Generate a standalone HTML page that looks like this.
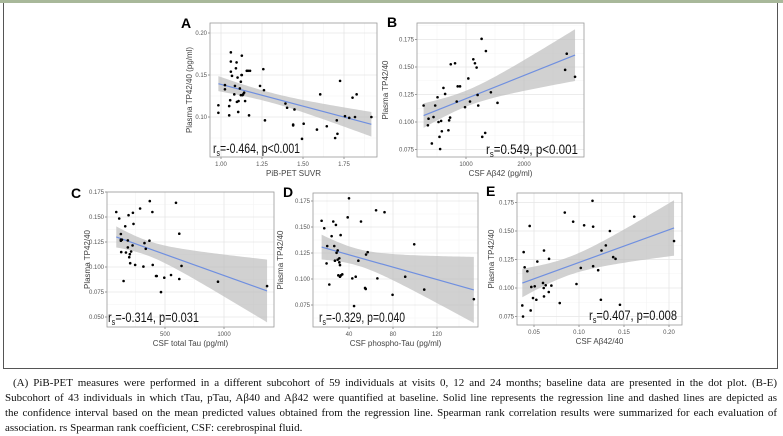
<!DOCTYPE html>
<html><head><meta charset="utf-8"><style>
body{margin:0;width:783px;height:434px;background:#fff;overflow:hidden;position:relative;font-family:"Liberation Sans",sans-serif}
#topbar{position:absolute;left:0;top:0;width:783px;height:3px;background:#a8b89a}
#frame{position:absolute;left:3px;top:3px;width:773px;height:365px;border:1px solid #555;border-top:none}
#cap{position:absolute;left:5px;top:376px;width:772px;font-family:"Liberation Serif",serif;font-size:11px;line-height:15px;color:#111}
#cap div{text-align:justify;text-align-last:justify;white-space:nowrap;overflow:hidden}
#cap div.last{text-align-last:left}
</style></head><body>
<div id="topbar"></div>
<div id="frame"></div>
<svg id="fig" width="783" height="434" style="position:absolute;left:0;top:0"></svg>
<div id="cap">
<div style="padding-left:8px">(A) PiB-PET measures were performed in a different subcohort of 59 individuals at visits 0, 12 and 24 months; baseline data are presented in the dot plot. (B-E)</div>
<div>Subcohort of 43 individuals in which tTau, pTau, Aβ40 and Aβ42 were quantified at baseline. Solid line represents the regression line and dashed lines are depicted as</div>
<div>the confidence interval based on the mean predicted values obtained from the regression line. Spearman rank correlation results were summarized for each evaluation of</div>
<div class="last">association. rs Spearman rank coefficient, CSF: cerebrospinal fluid.</div>
</div>
<script>
// Panel A data
const aX=[0.984,0.984,1.024,1.024,1.050,1.050,1.056,1.060,1.060,1.060,1.067,1.081,1.085,1.091,1.095,1.097,1.101,1.105,1.107,1.115,1.121,1.121,1.125,1.127,1.127,1.131,1.135,1.141,1.147,1.157,1.165,1.171,1.177,1.238,1.258,1.262,1.268,1.393,1.403,1.448,1.44,1.44,1.494,1.504,1.585,1.605,1.645,1.696,1.706,1.71,1.726,1.756,1.782,1.802,1.817,1.827,1.917];
const aY=[0.114,0.105,0.138,0.133,0.113,0.102,0.120,0.177,0.166,0.154,0.149,0.127,0.137,0.158,0.165,0.118,0.147,0.106,0.119,0.134,0.142,0.126,0.150,0.173,0.150,0.126,0.127,0.129,0.119,0.155,0.155,0.102,0.155,0.137,0.157,0.132,0.096,0.116,0.111,0.109,0.091,0.090,0.074,0.092,0.085,0.127,0.089,0.075,0.096,0.080,0.143,0.101,0.099,0.123,0.100,0.127,0.100];
const aXTicks=[1.00,1.25,1.50,1.75];
const aYTicks=[0.10,0.15,0.20];
// Panel B data
const bX=[269,354,343,411,440,469,509,526,543,554,571,583,611,640,697,709,726,737,811,840,857,897,983,1040,1069,1126,1154,1183,1200,1211,1269,1280,1343,1331,1429,1543,2709,2737,2880];
const bY=[0.115,0.103,0.097,0.0805,0.1045,0.115,0.1225,0.100,0.0865,0.0754,0.101,0.0916,0.131,0.1255,0.0925,0.1015,0.104,0.1525,0.1534,0.1186,0.1324,0.1324,0.1135,0.1396,0.1186,0.157,0.1534,0.1495,0.1246,0.115,0.1756,0.0865,0.1645,0.0901,0.127,0.1174,0.1474,0.1621,0.1411];
const bXTicks=[1000,2000];
const bYTicks=[0.075,0.100,0.125,0.150,0.175];
// Panel C data
const cX=[87,112,126,126,129,126,135,149,163,169,185,185,191,197,202,205,213,225,228,233,247,289,317,326,337,368,371,393,396,424,430,466,494,551,593,621,621,640,949,1365];
const cY=[0.155,0.1485,0.133,0.1273,0.1149,0.1263,0.1273,0.086,0.1407,0.1145,0.1266,0.1196,0.1518,0.1098,0.1128,0.1038,0.1155,0.1216,0.1542,0.1431,0.1021,0.1585,0.1004,0.1239,0.1182,0.1263,0.1659,0.155,0.1021,0.091,0.091,0.0749,0.0893,0.092,0.1642,0.1333,0.088,0.1011,0.0853,0.0809];
const cXTicks=[500,1000];
const cYTicks=[0.050,0.075,0.100,0.125,0.150,0.175];
// Panel D data
const dX=[15.1,17.5,19.6,20.2,22.1,24.2,25.7,26.6,27.2,28.1,28.7,29.7,29.7,30.3,31.2,31.2,31.8,31.8,32.4,32.7,33.9,38.8,40,43,44.6,46.1,48.5,50.9,54.6,55.2,55.5,57,64.6,65.8,72.3,79.6,91.1,99.3,108.4,153.5];
const dY=[0.156,0.1488,0.115,0.1317,0.0947,0.1412,0.1553,0.1317,0.1176,0.152,0.1252,0.1186,0.1275,0.1035,0.1199,0.116,0.1134,0.1022,0.1422,0.1035,0.1045,0.1593,0.1776,0.1006,0.074,0.1022,0.1176,0.1553,0.0914,0.0904,0.1235,0.1258,0.1661,0.1006,0.1642,0.0848,0.1022,0.1334,0.0898,0.0806];
const dXTicks=[40,80,120];
const dYTicks=[0.075,0.100,0.125,0.150,0.175];
// Panel E data
const eX=[0.037,0.0378,0.0385,0.0396,0.0426,0.0452,0.0463,0.047,0.0489,0.0508,0.0526,0.0537,0.06,0.0608,0.0611,0.0611,0.063,0.0664,0.0667,0.0693,0.0786,0.0842,0.0935,0.0972,0.102,0.1057,0.115,0.1157,0.1157,0.1213,0.1243,0.125,0.1298,0.1343,0.138,0.1406,0.1455,0.1614,0.2056];
const eY=[0.0847,0.075,0.1315,0.1182,0.1147,0.1544,0.0803,0.1009,0.0912,0.1015,0.0897,0.1232,0.1044,0.10,0.0926,0.1329,0.1024,0.0965,0.1256,0.1021,0.0868,0.1662,0.1582,0.1035,0.1176,0.155,0.1765,0.1538,0.1191,0.1156,0.0897,0.1329,0.1374,0.15,0.1271,0.1256,0.0853,0.1626,0.1412];
const eXTicks=[0.05,0.10,0.15,0.20];
const eYTicks=[0.075,0.100,0.125,0.150,0.175];

const NS='http://www.w3.org/2000/svg';
const svg=document.getElementById('fig');
function mk(tag,attrs,parent){const e=document.createElementNS(NS,tag);for(const k in attrs)e.setAttribute(k,attrs[k]);(parent||svg).appendChild(e);return e;}

function panel(p){
  const g=mk('g',{});
  
  
  const sx=v=>p.x0+(v-p.xv0)*p.xs, sy=v=>p.y0-(v-p.yv0)*p.ys;
  const bg=mk('rect',{x:p.L,y:p.T,width:p.R-p.L,height:p.B-p.T,fill:'#fff'},g);
  
  
  const xt=p.xt, yt=p.yt;
  const dx=xt.length>1?xt[1]-xt[0]:xt[0], dy=yt[1]-yt[0];
  for(let v=xt[0]-dx*2.5;v<=xt[xt.length-1]+dx*2;v+=dx){const X=sx(v);if(X>p.L&&X<p.R)mk('line',{x1:X,x2:X,y1:p.T,y2:p.B,stroke:'#f4f4f4','stroke-width':0.6},g);}
  for(let v=yt[0]-dy*2.5;v<=yt[yt.length-1]+dy*2;v+=dy){const Y=sy(v);if(Y>p.T&&Y<p.B)mk('line',{x1:p.L,x2:p.R,y1:Y,y2:Y,stroke:'#f4f4f4','stroke-width':0.6},g);}
  xt.forEach(v=>{const X=sx(v);
    mk('line',{x1:X,x2:X,y1:p.T,y2:p.B,stroke:'#e6e6e6','stroke-width':0.8},g);
    mk('line',{x1:X,x2:X,y1:p.B,y2:p.B+2,stroke:'#555','stroke-width':0.6},g);
    const t=mk('text',{x:X,y:p.B+9,'font-size':6,'text-anchor':'middle',fill:'#555'},g);t.textContent=p.xf(v);
    
    });
  yt.forEach(v=>{const Y=sy(v);
    mk('line',{x1:p.L,x2:p.R,y1:Y,y2:Y,stroke:'#e6e6e6','stroke-width':0.8},g);
    mk('line',{x1:p.L-2,x2:p.L,y1:Y,y2:Y,stroke:'#555','stroke-width':0.6},g);
    const t=mk('text',{x:p.L-3,y:Y+2,'font-size':6,'text-anchor':'end',fill:'#555'},g);t.textContent=p.yf(v);
    
    });
  const n=p.X.length;let mx=0,my=0;for(let i=0;i<n;i++){mx+=p.X[i];my+=p.Y[i];}mx/=n;my/=n;
  let sxx=0,sxy=0;for(let i=0;i<n;i++){sxx+=(p.X[i]-mx)**2;sxy+=(p.X[i]-mx)*(p.Y[i]-my);}
  const b=sxy/sxx,a=my-b*mx;let sse=0;for(let i=0;i<n;i++)sse+=(p.Y[i]-a-b*p.X[i])**2;
  const s=Math.sqrt(sse/(n-2)),tq=2.02;
  const xmin=Math.min(...p.X),xmax=Math.max(...p.X);
  const up=[],lo=[];
  for(let k=0;k<=60;k++){const x=xmin+(xmax-xmin)*k/60,yh=a+b*x,se=s*Math.sqrt(1/n+(x-mx)**2/sxx);
    up.push(sx(x).toFixed(2)+','+sy(yh+tq*se).toFixed(2));lo.unshift(sx(x).toFixed(2)+','+sy(yh-tq*se).toFixed(2));}
  const cid='clip'+p.id;const cp=mk('clipPath',{id:cid},g);mk('rect',{x:p.L,y:p.T,width:p.R-p.L,height:p.B-p.T},cp);
  const band=mk('polygon',{points:up.concat(lo).join(' '),fill:'#bdbdbd','fill-opacity':0.7,'clip-path':'url(#'+cid+')'},g);
  
  
  const ln=mk('line',{x1:sx(xmin),y1:sy(a+b*xmin),x2:sx(xmax),y2:sy(a+b*xmax),stroke:'#6f8fe0','stroke-width':1.2},g);
  
  
  for(let i=0;i<n;i++){const c=mk('circle',{cx:sx(p.X[i]),cy:sy(p.Y[i]),r:1.3,fill:'#000'},g);
    
    }
  mk('rect',{x:p.L,y:p.T,width:p.R-p.L,height:p.B-p.T,fill:'none',stroke:'#9a9a9a','stroke-width':0.8},g);
  const lt=mk('text',{x:p.lx,y:p.ly,'font-size':14,'font-weight':'bold',fill:'#000'},g);lt.textContent=p.id;
  
  
  const yl=mk('text',{x:0,y:0,'font-size':8,'text-anchor':'middle',fill:'#444',transform:'translate('+p.ylx+','+((p.T+p.B)/2)+') rotate(-90)'},g);yl.textContent=p.ylab;
  
  
  const xl=mk('text',{x:(p.L+p.R)/2,y:p.B+19,'font-size':8,'text-anchor':'middle',fill:'#444'},g);xl.textContent=p.xlab;
  
  
  const st=mk('text',{x:p.sx,y:p.sy,'font-size':13.5,'text-anchor':p.sa,fill:'#111',textLength:p.sw,lengthAdjust:'spacingAndGlyphs'},g);
  
  
  const t1=mk('tspan',{},st);t1.textContent='r';const t2=mk('tspan',{'font-size':9,dy:3},st);t2.textContent='s';
  const t3=mk('tspan',{dy:-3},st);t3.textContent=p.stat;
}
const f2=v=>v.toFixed(2), f3=v=>v.toFixed(3), f0=v=>String(v);
panel({id:'A',X:aX,Y:aY,xt:aXTicks,yt:aYTicks,L:210,R:377,T:23,B:157,x0:221,xv0:1,xs:164,y0:117,yv0:0.10,ys:840,xf:f2,yf:f2,lx:181,ly:28,ylx:192,ylab:'Plasma TP42/40 (pg/ml)',xlab:'PiB-PET SUVR',sx:213,sy:153,sa:'start',sw:87,stat:'=-0.464, p<0.001'});
panel({id:'B',X:bX,Y:bY,xt:bXTicks,yt:bYTicks,L:417,R:584,T:23,B:157,x0:408,xv0:0,xs:0.058,y0:122,yv0:0.10,ys:1100,xf:f0,yf:f3,lx:387,ly:27,ylx:388,ylab:'Plasma TP42/40',xlab:'CSF Aβ42 (pg/ml)',sx:578,sy:154,sa:'end',sw:92,stat:'=0.549, p<0.001'});
panel({id:'C',X:cX,Y:cY,xt:cXTicks,yt:cYTicks,L:107,R:274,T:192,B:327,x0:106,xv0:0,xs:0.118,y0:267,yv0:0.10,ys:1000,xf:f0,yf:f3,lx:71,ly:198,ylx:90,ylab:'Plasma TP42/40',xlab:'CSF total Tau (pg/ml)',sx:108,sy:322,sa:'start',sw:91,stat:'=-0.314, p=0.031'});
panel({id:'D',X:dX,Y:dY,xt:dXTicks,yt:dYTicks,L:313,R:478,T:193,B:327,x0:305,xv0:0,xs:1.1,y0:279,yv0:0.10,ys:1040,xf:f0,yf:f3,lx:283,ly:197,ylx:283,ylab:'Plasma TP42/40',xlab:'CSF phospho-Tau (pg/ml)',sx:319,sy:322,sa:'start',sw:86,stat:'=-0.329, p=0.040'});
panel({id:'E',X:eX,Y:eY,xt:eXTicks,yt:eYTicks,L:517,R:682,T:193,B:325,x0:534,xv0:0.05,xs:900,y0:288,yv0:0.10,ys:1140,xf:f2,yf:f3,lx:486,ly:196,ylx:494,ylab:'Plasma TP42/40',xlab:'CSF Aβ42/40',sx:677,sy:320,sa:'end',sw:88,stat:'=0.407, p=0.008'});
</script>
</body></html>
